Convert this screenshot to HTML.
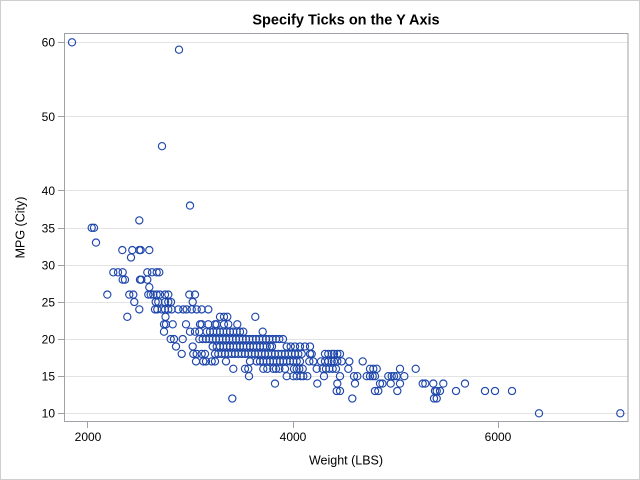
<!DOCTYPE html>
<html><head><meta charset="utf-8"><style>
html,body{margin:0;padding:0;background:#fff;}
svg{display:block;}
text{font-family:"Liberation Sans",Arial,sans-serif;fill:#000;}
.r{fill:none;stroke:none;marker-start:url(#m);marker-mid:url(#m);marker-end:url(#m);}
</style></head><body>
<svg width="640" height="480" viewBox="0 0 640 480" xmlns="http://www.w3.org/2000/svg">
<defs>
<marker id="m" markerUnits="userSpaceOnUse" markerWidth="10" markerHeight="10" refX="5" refY="5" viewBox="0 0 10 10" overflow="visible">
<circle cx="5" cy="5" r="3.6" fill="none" stroke="#1f47ab" stroke-width="1.15"/>
</marker>
</defs>
<rect x="0.5" y="0.5" width="639" height="479" fill="#fff" stroke="#cfcfcf" stroke-width="1"/>
<text x="346" y="24.5" text-anchor="middle" font-size="14.5" font-weight="bold">Specify Ticks on the Y Axis</text>
<path stroke="#e3e3e3" stroke-width="1" shape-rendering="crispEdges" d="M65 413.5H628M65 376.5H628M65 339.5H628M65 302.5H628M65 265.5H628M65 228.5H628M65 190.5H628M65 116.5H628M65 42.5H628"/>
<rect x="64.5" y="33.5" width="563.5" height="388" fill="none" stroke="#9ea2a8" stroke-width="1" shape-rendering="crispEdges"/>
<path stroke="#9ea2a8" stroke-width="1" shape-rendering="crispEdges" d="M58 413.5H64M58 376.5H64M58 339.5H64M58 302.5H64M58 265.5H64M58 228.5H64M58 190.5H64M58 116.5H64M58 42.5H64M87.5 422V428M293.5 422V428M498.5 422V428"/>
<g font-size="12" text-anchor="end">
<text x="55" y="417.5">10</text>
<text x="55" y="380.5">15</text>
<text x="55" y="343.5">20</text>
<text x="55" y="306.5">25</text>
<text x="55" y="269.5">30</text>
<text x="55" y="232.3">35</text>
<text x="55" y="195">40</text>
<text x="55" y="120.8">50</text>
<text x="55" y="46.6">60</text>
</g>
<g font-size="12" text-anchor="middle">
<text x="88" y="441">2000</text>
<text x="293" y="441">4000</text>
<text x="498" y="441">6000</text>
</g>
<text x="346" y="464.5" text-anchor="middle" font-size="12.5">Weight (LBS)</text>
<text transform="translate(24.5,227.5) rotate(-90)" text-anchor="middle" font-size="12.5">MPG (City)</text>
<polyline class="r" points="72,42.3 179,49.7 162,146.2 190,205.6 139.3,220.4 91.7,227.8 94,227.8 96,242.6 131,257.5 149.3,287.2"/>
<polyline class="r" points="122.3,250.1 132.3,250.1 139.3,250.1 140.7,250.1 149.3,250.1"/>
<polyline class="r" points="113.3,272.3 118,272.3 122.7,272.3 147.3,272.3 152,272.3 156.7,272.3 159.3,272.3"/>
<polyline class="r" points="122.7,279.7 125,279.7 140,279.7 141.3,279.7 147.3,279.7"/>
<polyline class="r" points="107.3,294.6 129.3,294.6 133.3,294.6 148.3,294.6 150.7,294.6 153.3,294.6 156.7,294.6 160,294.6 165,294.6 168.3,294.6 189.3,294.6 195,294.6"/>
<polyline class="r" points="134.3,302 155.7,302 158.3,302 165,302 168.3,302 171,302 192.7,302"/>
<polyline class="r" points="139.3,309.4 155,309.4 157.3,309.4 161.7,309.4 165,309.4 168.3,309.4 171.7,309.4 178.3,309.4 183.3,309.4 186.7,309.4 191.7,309.4 196.7,309.4 201.7,309.4 208.3,309.4"/>
<polyline class="r" points="127.3,316.8 165.5,316.8 220,316.8 224,316.8 227.3,316.8 255.3,316.8"/>
<polyline class="r" points="164,324.3 166,324.3 172.7,324.3 186,324.3 200,324.3 201.7,324.3 208.3,324.3 215,324.3 216.7,324.3 224,324.3 228.3,324.3 237.3,324.3"/>
<polyline class="r" points="164,331.7 190,331.7 195,331.7 199.3,331.7 206.7,331.7 210,331.7 213.3,331.7 216.7,331.7 220,331.7 223.3,331.7 226.7,331.7 230,331.7 233.3,331.7 236.7,331.7 240,331.7 243.3,331.7 262.7,331.7"/>
<polyline class="r" points="170.7,339.1 174,339.1 182.7,339.1 199.3,339.1 202.7,339.1 206,339.1 209.3,339.1 212.7,339.1 216,339.1 219.3,339.1 222.7,339.1 226,339.1 229.3,339.1 232.7,339.1 236,339.1 239.3,339.1 242.7,339.1 246,339.1 249.3,339.1 252.7,339.1 256,339.1 259.3,339.1 262.7,339.1 266,339.1 269.3,339.1 272.7,339.1 276,339.1 279.3,339.1 283,339.1"/>
<polyline class="r" points="176,346.5 192.7,346.5 212.7,346.5 216.7,346.5 220,346.5 223.3,346.5 226.7,346.5 230,346.5 233.3,346.5 236.7,346.5 240,346.5 243.3,346.5 246.7,346.5 250,346.5 253.3,346.5 256.7,346.5 260,346.5 263.3,346.5 266.7,346.5 270,346.5 272,346.5 286.7,346.5 290.7,346.5 295,346.5 300,346.5 305,346.5 310,346.5"/>
<polyline class="r" points="181.7,353.9 193.3,353.9 196.7,353.9 201.7,353.9 205,353.9 215,353.9 218.3,353.9 221.7,353.9 225,353.9 228.3,353.9 231.7,353.9 235,353.9 238.3,353.9 241.7,353.9 245,353.9 248.3,353.9 251.7,353.9 255,353.9 258.3,353.9 261.7,353.9 265,353.9 268.3,353.9 271.7,353.9 275,353.9 278.3,353.9 281.7,353.9 285,353.9 288.3,353.9 291.7,353.9 295,353.9 298.3,353.9 301.7,353.9 310,353.9 311.7,353.9 325,353.9 328.3,353.9 331.7,353.9 334,353.9 337.3,353.9 340,353.9"/>
<polyline class="r" points="196,361.4 203.3,361.4 206,361.4 211.7,361.4 215,361.4 226,361.4 250,361.4 256.7,361.4 260,361.4 263.3,361.4 266.7,361.4 270,361.4 273.3,361.4 276.7,361.4 280,361.4 283.3,361.4 286.7,361.4 290,361.4 293.3,361.4 296.7,361.4 300,361.4 309.3,361.4 313.3,361.4 321,361.4 325,361.4 328.3,361.4 331.7,361.4 334,361.4 337.3,361.4 341.7,361.4 349.3,361.4 362.7,361.4"/>
<polyline class="r" points="233.3,368.8 245,368.8 248.3,368.8 263.3,368.8 267.3,368.8 273.3,368.8 276,368.8 279.3,368.8 285,368.8 294,368.8 296.7,368.8 299.3,368.8 302.7,368.8 316.7,368.8 322.7,368.8 326,368.8 329.3,368.8 332.7,368.8 336,368.8 348.3,368.8 370,368.8 373.3,368.8 376.7,368.8 400,368.8 415.7,368.8"/>
<polyline class="r" points="249,376.2 286.7,376.2 293.3,376.2 296.7,376.2 300.7,376.2 303.3,376.2 307.3,376.2 324,376.2 340,376.2 354,376.2 357.3,376.2 366.7,376.2 370,376.2 372.7,376.2 375,376.2 388.3,376.2 391.7,376.2 394,376.2 396.7,376.2 404.3,376.2"/>
<polyline class="r" points="275,383.6 317.3,383.6 337.3,383.6 355,383.6 380,383.6 382.5,383.6 390.7,383.6 400,383.6 422.7,383.6 425.3,383.6 433.3,383.6 443.3,383.6 465,383.6"/>
<polyline class="r" points="336.7,391 340,391 375,391 378.3,391 397.3,391 435,391 436.7,391 440,391 456,391 485,391 495,391 512,391"/>
<polyline class="r" points="232.3,398.5 352.3,398.5 434,398.5 436.7,398.5 539,413.3 620.3,413.3"/>
</svg>
</body></html>
